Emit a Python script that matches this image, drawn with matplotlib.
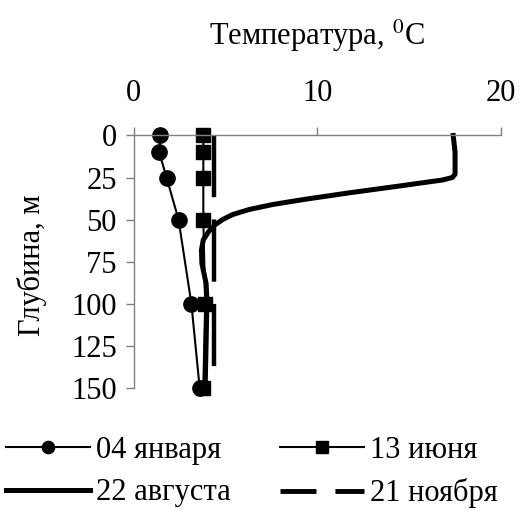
import numpy as np
import matplotlib
matplotlib.use("Agg")
import matplotlib.pyplot as plt
from matplotlib.lines import Line2D

# ----------------------------------------------------------------------
# DATA
# ----------------------------------------------------------------------

depth_jan = [0, 10, 25, 50, 100, 150]
temp_jan = [1.45, 1.4, 1.8, 2.45, 3.15, 3.6]

depth_jun = [0, 10, 25, 50, 100, 150]
temp_jun = [3.8, 3.8, 3.8, 3.8, 3.9, 3.8]

depth_aug = [0, 10, 20, 23, 25, 26.5, 28, 30, 34, 38, 41, 44, 47, 50, 53,
             57, 62, 68, 76, 88, 98, 150]
temp_aug = [17.4, 17.5, 17.5, 17.5, 17.35, 16.8, 15.8, 14.5, 11.8, 9.3, 7.6,
            6.3, 5.4, 4.85, 4.45, 4.1, 3.8, 3.7, 3.72, 3.95, 4.0, 3.9]

depth_nov = [0, 150]
temp_nov = [4.4, 4.4]

labels = ["04 января", "13 июня", "22 августа", "21 ноября"]

# ----------------------------------------------------------------------
# PLOT
# ----------------------------------------------------------------------

plt.rcParams["font.family"] = ["Liberation Serif", "DejaVu Serif"]
plt.rcParams["mathtext.fontset"] = "stix"
fs = 22

W, H = 519, 511
fig = plt.figure(figsize=(W / 100, H / 100), dpi=100)
ax = fig.add_axes([133.5 / W, 1 - 387.7 / H, (501 - 133.5) / W, (387.7 - 135.5) / H])

h1, = ax.plot(temp_jan, depth_jan, "-o", color="black", lw=1.5, ms=11, clip_on=False)
h2, = ax.plot(temp_jun, depth_jun, "-s", color="black", lw=1.5, ms=10.5, clip_on=False)
h3, = ax.plot(temp_aug, depth_aug, "-", color="black", lw=3.6,
              solid_joinstyle="round", clip_on=False)
h4, = ax.plot(temp_nov, depth_nov, "--", color="black", lw=3.2,
              dashes=(14, 5), clip_on=False)

ax.set_xlim(0, 20)
ax.set_ylim(150, 0)
ax.set_xticks([0, 10, 20])
ax.set_yticks(np.arange(0, 151, 25))
ax.xaxis.tick_top()
ax.tick_params(axis="both", labelsize=fs, color="#808080", length=6, width=1,
               direction="out")
ax.tick_params(axis="x", pad=14)
ax.tick_params(axis="y", pad=6)

for side in ["right", "bottom"]:
    ax.spines[side].set_visible(False)
for side in ["left", "top"]:
    ax.spines[side].set_color("#808080")
    ax.spines[side].set_linewidth(1)

fig.text(317 / W, 1 - 36 / H, "Температура, $^0$C", fontsize=fs,
         ha="center", va="center")
fig.text(32 / W, 1 - 265 / H, "Глубина, м", fontsize=fs, rotation=90,
         ha="center", va="center")

# legend proxy for the dashed line (shorter dashes than in the plot)
h4_leg = Line2D([], [], color="black", lw=3.5, linestyle=(0, (7.4, 3.9)))

# row 1: January, June; row 2: August, November
leg = fig.legend([h1, h3, h2, h4_leg], [labels[0], labels[2], labels[1], labels[3]],
                 loc="center left", bbox_to_anchor=(0.0, 1 - 472 / H), ncol=2,
                 frameon=False, fontsize=fs, handlelength=2.75,
                 handletextpad=0.2, columnspacing=1.6, labelspacing=0.45,
                 markerscale=0.8, borderaxespad=0.0, borderpad=0.2)

fig.savefig("out.png", dpi=100)
